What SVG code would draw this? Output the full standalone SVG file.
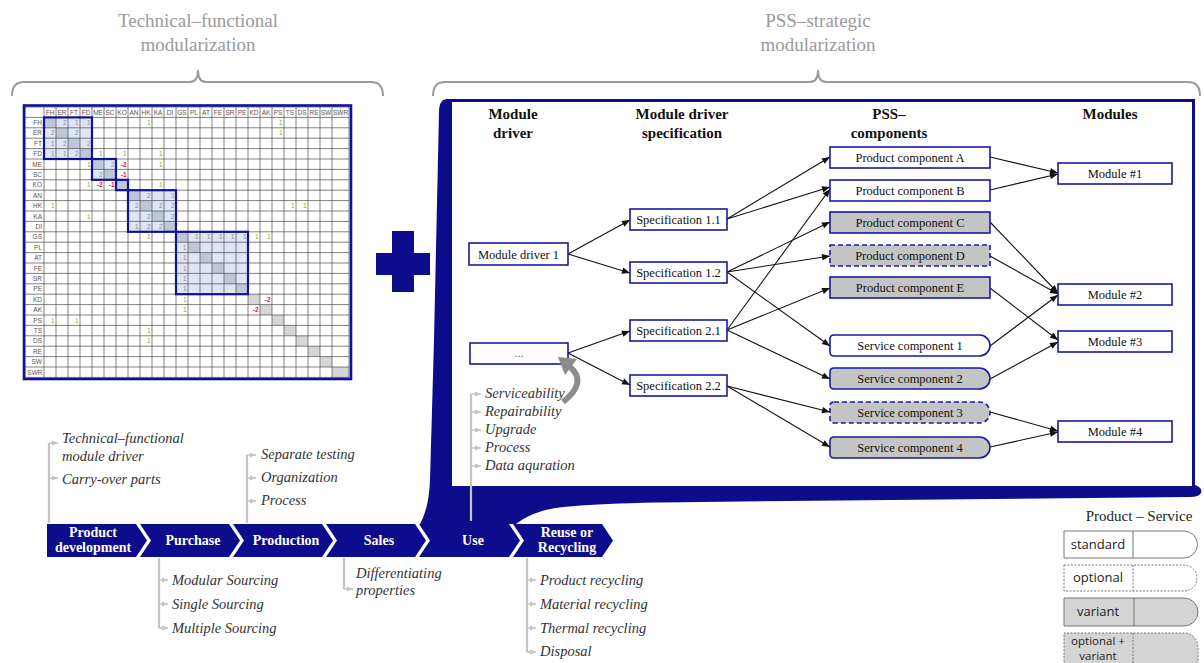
<svg xmlns="http://www.w3.org/2000/svg" width="1204" height="663" viewBox="0 0 1204 663">
<style>
.ttl{font-family:"Liberation Serif",serif;font-size:19px;fill:#9a9a9a;text-anchor:middle}
.brace{fill:none;stroke:#9a9a9a;stroke-width:2}
.hd{font-family:"Liberation Serif",serif;font-size:15px;font-weight:bold;fill:#111;text-anchor:middle}
.nd{fill:#fff;stroke:#1a1aa0;stroke-width:1.6}
.ndg{fill:#c4c4c4;stroke:#1a1aa0;stroke-width:1.6}
.dash{stroke-dasharray:5 3}
.nt{font-family:"Liberation Serif",serif;font-size:12.5px;fill:#111;text-anchor:middle}
.cn{fill:none;stroke:#111;stroke-width:1.1;marker-end:url(#ah)}
.chev{fill:#0c0c8c}
.ct{font-family:"Liberation Serif",serif;font-size:14px;font-weight:bold;fill:#fff;text-anchor:middle}
.li{font-family:"Liberation Serif",serif;font-size:14.5px;font-style:italic;fill:#333}
.ll{fill:none;stroke:#c4c4c4;stroke-width:2.2}
.lt{fill:none;stroke:#c4c4c4;stroke-width:1.5;marker-end:url(#gh)}
.mx{font-family:"Liberation Sans",sans-serif;font-size:6.5px;fill:#555;text-anchor:middle}
.ml{font-family:"Liberation Sans",sans-serif;font-size:6.5px;fill:#555;text-anchor:end}
.g{font-family:"Liberation Sans",sans-serif;font-size:6.5px;fill:#86ac48;text-anchor:end}
.k{font-family:"Liberation Sans",sans-serif;font-size:6.5px;fill:#8c8c8c;text-anchor:end}
.r{font-family:"Liberation Sans",sans-serif;font-size:6.5px;font-weight:bold;fill:#e02020;text-anchor:end}
.dg{fill:#d6d6d6}
.lg{font-family:"Open Sans","Liberation Sans",sans-serif;font-size:13px;fill:#222;text-anchor:middle}
.lg2{font-family:"Open Sans","Liberation Sans",sans-serif;font-size:11.5px;fill:#222;text-anchor:middle}
.lgs{stroke:#777;stroke-width:1}
</style>
<defs>
<marker id="ah" viewBox="0 0 10 10" refX="10" refY="5" markerWidth="9" markerHeight="8" orient="auto" markerUnits="userSpaceOnUse"><path d="M0,1 L10,5 L0,9 z" fill="#111"/></marker>
<marker id="gh" viewBox="0 0 10 10" refX="10" refY="5" markerWidth="6" markerHeight="6" orient="auto" markerUnits="userSpaceOnUse"><path d="M0,1 L10,5 L0,9 z" fill="#c4c4c4"/></marker>
</defs>
<rect width="1204" height="663" fill="#fff"/>

<g id="title-left">
<text class="ttl" x="198" y="27">Technical–functional</text>
<text class="ttl" x="198" y="51">modularization</text>
<path class="brace" d="M12,96 Q12,82 24,82 L190,82 Q198,82 198,70 Q198,82 206,82 L371,82 Q383,82 383,96"/>
</g>
<g id="title-right">
<text class="ttl" x="818" y="27">PSS–strategic</text>
<text class="ttl" x="818" y="51">modularization</text>
<path class="brace" d="M433,96 Q433,82 445,82 L810,82 Q818,82 818,70 Q818,82 826,82 L1188,82 Q1200,82 1200,96"/>
</g>

<g id="matrix">
<rect x="24" y="105.5" width="327" height="273.5" fill="#fff"/>
<g>
<rect class="dg" x="44" y="117.4" width="12" height="10.4"/><rect class="dg" x="56" y="127.8" width="12" height="10.4"/><rect class="dg" x="68" y="138.2" width="12" height="10.4"/><rect class="dg" x="80" y="148.6" width="12" height="10.4"/><rect class="dg" x="92" y="159" width="12" height="10.4"/><rect class="dg" x="104" y="169.4" width="12" height="10.4"/><rect class="dg" x="116" y="179.8" width="12" height="10.4"/><rect class="dg" x="128" y="190.2" width="12" height="10.4"/><rect class="dg" x="140" y="200.6" width="12" height="10.4"/><rect class="dg" x="152" y="211" width="12" height="10.4"/><rect class="dg" x="164" y="221.4" width="12" height="10.4"/><rect class="dg" x="176" y="231.8" width="12" height="10.4"/><rect class="dg" x="188" y="242.2" width="12" height="10.4"/><rect class="dg" x="200" y="252.6" width="12" height="10.4"/><rect class="dg" x="212" y="263" width="12" height="10.4"/><rect class="dg" x="224" y="273.4" width="12" height="10.4"/><rect class="dg" x="236" y="283.8" width="12" height="10.4"/><rect class="dg" x="248" y="294.2" width="12" height="10.4"/><rect class="dg" x="260" y="304.6" width="12" height="10.4"/><rect class="dg" x="272" y="315" width="12" height="10.4"/><rect class="dg" x="284" y="325.4" width="12" height="10.4"/><rect class="dg" x="296" y="335.8" width="12" height="10.4"/><rect class="dg" x="308" y="346.2" width="12" height="10.4"/><rect class="dg" x="320" y="356.6" width="12" height="10.4"/><rect class="dg" x="332" y="367" width="17" height="10.4"/>
</g>
<g fill="rgba(120,150,220,0.25)">
<rect x="44" y="117.4" width="48" height="41.6"/><rect x="92" y="159" width="24" height="20.8"/><rect x="116" y="179.8" width="12" height="10.4"/><rect x="128" y="190.2" width="48" height="41.6"/><rect x="176" y="231.8" width="72" height="62.4"/>
</g>
<path fill="none" stroke="#4a4a4a" stroke-width="0.7" d="M25,107V377.4M44,107V377.4M56,107V377.4M68,107V377.4M80,107V377.4M92,107V377.4M104,107V377.4M116,107V377.4M128,107V377.4M140,107V377.4M152,107V377.4M164,107V377.4M176,107V377.4M188,107V377.4M200,107V377.4M212,107V377.4M224,107V377.4M236,107V377.4M248,107V377.4M260,107V377.4M272,107V377.4M284,107V377.4M296,107V377.4M308,107V377.4M320,107V377.4M332,107V377.4M349,107V377.4
M25,107H349M25,117.4H349M25,127.8H349M25,138.2H349M25,148.6H349M25,159H349M25,169.4H349M25,179.8H349M25,190.2H349M25,200.6H349M25,211H349M25,221.4H349M25,231.8H349M25,242.2H349M25,252.6H349M25,263H349M25,273.4H349M25,283.8H349M25,294.2H349M25,304.6H349M25,315H349M25,325.4H349M25,335.8H349M25,346.2H349M25,356.6H349M25,367H349M25,377.4H349"/>
<g fill="none" stroke="#10109a" stroke-width="2.2">
<rect x="44" y="117.4" width="48" height="41.6"/><rect x="92" y="159" width="24" height="20.8"/><rect x="116" y="179.8" width="12" height="10.4"/><rect x="128" y="190.2" width="48" height="41.6"/><rect x="176" y="231.8" width="72" height="62.4"/>
</g>
<rect x="24" y="105.5" width="327" height="273.5" fill="none" stroke="#10109a" stroke-width="2.6"/>
<g>
<text class="mx" x="50" y="114.6">FH</text><text class="mx" x="62" y="114.6">ER</text><text class="mx" x="74" y="114.6">FT</text><text class="mx" x="86" y="114.6">FD</text><text class="mx" x="98" y="114.6">ME</text><text class="mx" x="110" y="114.6">SC</text><text class="mx" x="122" y="114.6">KO</text><text class="mx" x="134" y="114.6">AN</text><text class="mx" x="146" y="114.6">HK</text><text class="mx" x="158" y="114.6">KA</text><text class="mx" x="170" y="114.6">DI</text><text class="mx" x="182" y="114.6">GS</text><text class="mx" x="194" y="114.6">PL</text><text class="mx" x="206" y="114.6">AT</text><text class="mx" x="218" y="114.6">FE</text><text class="mx" x="230" y="114.6">SR</text><text class="mx" x="242" y="114.6">PE</text><text class="mx" x="254" y="114.6">KD</text><text class="mx" x="266" y="114.6">AK</text><text class="mx" x="278" y="114.6">PS</text><text class="mx" x="290" y="114.6">TS</text><text class="mx" x="302" y="114.6">DS</text><text class="mx" x="314" y="114.6">RE</text><text class="mx" x="326" y="114.6">SW</text><text class="mx" x="340.5" y="114.6">SWR</text>
</g>
<g>
<text class="ml" x="42" y="125">FH</text><text class="ml" x="42" y="135.4">ER</text><text class="ml" x="42" y="145.8">FT</text><text class="ml" x="42" y="156.2">FD</text><text class="ml" x="42" y="166.6">ME</text><text class="ml" x="42" y="177">SC</text><text class="ml" x="42" y="187.4">KO</text><text class="ml" x="42" y="197.8">AN</text><text class="ml" x="42" y="208.2">HK</text><text class="ml" x="42" y="218.6">KA</text><text class="ml" x="42" y="229">DI</text><text class="ml" x="42" y="239.4">GS</text><text class="ml" x="42" y="249.8">PL</text><text class="ml" x="42" y="260.2">AT</text><text class="ml" x="42" y="270.6">FE</text><text class="ml" x="42" y="281">SR</text><text class="ml" x="42" y="291.4">PE</text><text class="ml" x="42" y="301.8">KD</text><text class="ml" x="42" y="312.2">AK</text><text class="ml" x="42" y="322.6">PS</text><text class="ml" x="42" y="333">TS</text><text class="ml" x="42" y="343.4">DS</text><text class="ml" x="42" y="353.8">RE</text><text class="ml" x="42" y="364.2">SW</text><text class="ml" x="42.5" y="374.6">SWR</text>
</g>
<g>
<text class="k" x="66.5" y="125">2</text><text class="k" x="78.5" y="125">1</text><text class="k" x="90.5" y="125">1</text><text class="g" x="150.5" y="125">1</text><text class="g" x="282.5" y="125">1</text>
<text class="k" x="54.5" y="135.4">2</text><text class="k" x="78.5" y="135.4">2</text><text class="g" x="282.5" y="135.4">1</text>
<text class="k" x="54.5" y="145.8">1</text><text class="k" x="66.5" y="145.8">2</text><text class="k" x="90.5" y="145.8">2</text>
<text class="k" x="54.5" y="156.2">1</text><text class="k" x="66.5" y="156.2">1</text><text class="k" x="78.5" y="156.2">2</text><text class="g" x="102.5" y="156.2">1</text><text class="g" x="126.5" y="156.2">1</text><text class="g" x="162.5" y="156.2">1</text>
<text class="g" x="90.5" y="166.6">1</text><text class="k" x="114.5" y="166.6">2</text><text class="r" x="126.5" y="166.6">-2</text><text class="g" x="162.5" y="166.6">1</text>
<text class="k" x="102.5" y="177">2</text><text class="r" x="126.5" y="177">-1</text>
<text class="g" x="90.5" y="187.4">1</text><text class="r" x="102.5" y="187.4">-2</text><text class="r" x="114.5" y="187.4">-1</text><text class="g" x="162.5" y="187.4">1</text>
<text class="k" x="150.5" y="197.8">2</text><text class="k" x="174.5" y="197.8">1</text>
<text class="g" x="54.5" y="208.2">1</text><text class="k" x="138.5" y="208.2">2</text><text class="k" x="162.5" y="208.2">2</text><text class="k" x="174.5" y="208.2">2</text><text class="g" x="294.5" y="208.2">1</text><text class="g" x="306.5" y="208.2">1</text>
<text class="g" x="90.5" y="218.6">1</text><text class="k" x="150.5" y="218.6">2</text><text class="k" x="174.5" y="218.6">2</text>
<text class="k" x="138.5" y="229">1</text><text class="k" x="150.5" y="229">2</text><text class="k" x="162.5" y="229">2</text>
<text class="g" x="150.5" y="239.4">1</text><text class="k" x="198.5" y="239.4">1</text><text class="k" x="210.5" y="239.4">1</text><text class="k" x="222.5" y="239.4">1</text><text class="k" x="234.5" y="239.4">1</text><text class="k" x="246.5" y="239.4">1</text><text class="g" x="258.5" y="239.4">1</text><text class="g" x="270.5" y="239.4">1</text>
<text class="k" x="186.5" y="249.8">1</text><text class="k" x="186.5" y="260.2">1</text><text class="k" x="186.5" y="270.6">1</text><text class="k" x="186.5" y="281">1</text><text class="k" x="186.5" y="291.4">1</text>
<text class="g" x="186.5" y="301.8">1</text><text class="r" x="270.5" y="301.8">-2</text>
<text class="g" x="186.5" y="312.2">1</text><text class="r" x="258.5" y="312.2">-2</text>
<text class="g" x="54.5" y="322.6">1</text><text class="g" x="78.5" y="322.6">1</text>
<text class="g" x="150.5" y="333">1</text>
<text class="g" x="150.5" y="343.4">1</text>
</g>
</g>

<g id="plus" fill="#0c0c8c">
<rect x="392" y="231" width="22" height="61"/>
<rect x="376" y="253" width="54" height="22"/>
</g>

<g id="panel">
<path fill="#0c0c8c" d="M447,99 L1195,99 L1195,485 Q1203,488 1201,493 Q1199,497 1190,497 L700,502 Q565,503 542,511 Q526,516 516,524 L420,524 Q429,508 430,480 L434,340 L439,112 Q439,98 449,99 Z"/>
<rect x="452" y="102" width="740" height="384" fill="#fff"/>
</g>

<g id="headers">
<text class="hd" x="513" y="119">Module</text><text class="hd" x="513" y="138">driver</text>
<text class="hd" x="682" y="119">Module driver</text><text class="hd" x="682" y="138">specification</text>
<text class="hd" x="889" y="119">PSS–</text><text class="hd" x="889" y="138">components</text>
<text class="hd" x="1110" y="119">Modules</text>
</g>

<g id="connectors">
<path class="cn" d="M568,254 L630,220"/>
<path class="cn" d="M568,254 L630,273"/>
<path class="cn" d="M568,353 L630,331"/>
<path class="cn" d="M568,353 L630,385"/>
<path class="cn" d="M727,219 L830,157"/>
<path class="cn" d="M727,219 L830,187"/>
<path class="cn" d="M727,272 L830,222"/>
<path class="cn" d="M727,272 L830,256"/>
<path class="cn" d="M727,272 L830,346"/>
<path class="cn" d="M727,330 L830,189"/>
<path class="cn" d="M727,330 L830,288"/>
<path class="cn" d="M727,330 L830,379"/>
<path class="cn" d="M727,386 L830,412"/>
<path class="cn" d="M727,386 L830,447"/>
<path class="cn" d="M990,157 L1058,173"/>
<path class="cn" d="M990,190 L1058,174"/>
<path class="cn" d="M990,222 L1058,293"/>
<path class="cn" d="M990,256 L1058,294"/>
<path class="cn" d="M990,346 L1058,295"/>
<path class="cn" d="M990,288 L1058,340"/>
<path class="cn" d="M990,379 L1058,342"/>
<path class="cn" d="M990,412 L1058,431"/>
<path class="cn" d="M990,447 L1058,432"/>
</g>

<g id="md1"><rect class="nd" x="469" y="243" width="99" height="22"/><text class="nt" x="518.5" y="258.5">Module driver 1</text></g>
<g id="md2"><rect class="nd" x="470" y="343" width="98" height="21"/><text class="nt" x="519" y="357" style="fill:#777">...</text></g>
<g id="s11"><rect class="nd" x="630" y="209" width="97" height="21"/><text class="nt" x="678.5" y="224">Specification 1.1</text></g>
<g id="s12"><rect class="nd" x="630" y="262" width="97" height="21"/><text class="nt" x="678.5" y="277">Specification 1.2</text></g>
<g id="s21"><rect class="nd" x="630" y="320" width="97" height="21"/><text class="nt" x="678.5" y="335">Specification 2.1</text></g>
<g id="s22"><rect class="nd" x="630" y="375" width="97" height="21"/><text class="nt" x="678.5" y="390">Specification 2.2</text></g>
<g id="pca"><rect class="nd" x="830" y="147" width="160" height="21"/><text class="nt" x="910" y="162">Product component A</text></g>
<g id="pcb"><rect class="nd" x="830" y="180" width="160" height="21"/><text class="nt" x="910" y="195">Product component B</text></g>
<g id="pcc"><rect class="ndg" x="830" y="212" width="160" height="21"/><text class="nt" x="910" y="227">Product component C</text></g>
<g id="pcd"><rect class="ndg dash" x="830" y="245" width="160" height="21"/><text class="nt" x="910" y="260">Product component D</text></g>
<g id="pce"><rect class="ndg" x="830" y="277" width="160" height="21"/><text class="nt" x="910" y="292">Product component E</text></g>
<g id="sc1"><path class="nd" d="M834,335 H979.5 A10.5,10.5 0 0 1 979.5,356 H834 Q830,356 830,352 V339 Q830,335 834,335 Z"/><text class="nt" x="910" y="350">Service component 1</text></g>
<g id="sc2"><path class="ndg" d="M834,368 H979.5 A10.5,10.5 0 0 1 979.5,389 H834 Q830,389 830,385 V372 Q830,368 834,368 Z"/><text class="nt" x="910" y="383">Service component 2</text></g>
<g id="sc3"><path class="ndg dash" d="M834,402 H979.5 A10.5,10.5 0 0 1 979.5,423 H834 Q830,423 830,419 V406 Q830,402 834,402 Z"/><text class="nt" x="910" y="417">Service component 3</text></g>
<g id="sc4"><path class="ndg" d="M834,437 H979.5 A10.5,10.5 0 0 1 979.5,458 H834 Q830,458 830,454 V441 Q830,437 834,437 Z"/><text class="nt" x="910" y="452">Service component 4</text></g>
<g id="m1"><rect class="nd" x="1058" y="163" width="114" height="21"/><text class="nt" x="1115" y="178">Module #1</text></g>
<g id="m2"><rect class="nd" x="1058" y="284" width="114" height="21"/><text class="nt" x="1115" y="299">Module #2</text></g>
<g id="m3"><rect class="nd" x="1058" y="331" width="114" height="21"/><text class="nt" x="1115" y="346">Module #3</text></g>
<g id="m4"><rect class="nd" x="1058" y="421" width="114" height="21"/><text class="nt" x="1115" y="436">Module #4</text></g>

<g id="curved-arrow">
<path d="M563,402 Q588,382 570,367" fill="none" stroke="#8c8c8c" stroke-width="6"/>
<polygon points="558,357 577,359 565,375" fill="#8c8c8c"/>
</g>

<g id="chevrons">
<g id="c-pd"><path class="chev" d="M47,524 L136,524 L147,540.5 L136,557 L47,557 Z"/><text class="ct" x="93" y="537">Product</text><text class="ct" x="93" y="552">development</text></g>
<g id="c-pu"><path class="chev" d="M140,524 L229,524 L240,540.5 L229,557 L140,557 L151,540.5 Z"/><text class="ct" x="193" y="545">Purchase</text></g>
<g id="c-pr"><path class="chev" d="M233,524 L322,524 L333,540.5 L322,557 L233,557 L244,540.5 Z"/><text class="ct" x="286" y="545">Production</text></g>
<g id="c-sa"><path class="chev" d="M326,524 L415,524 L426,540.5 L415,557 L326,557 L337,540.5 Z"/><text class="ct" x="379" y="545">Sales</text></g>
<g id="c-us"><path class="chev" d="M419,524 L509,524 L520,540.5 L509,557 L419,557 L430,540.5 Z"/><text class="ct" x="473" y="545">Use</text></g>
<g id="c-re"><path class="chev" d="M513,524 L602,524 L613,540.5 L602,557 L513,557 L524,540.5 Z"/><text class="ct" x="567" y="537">Reuse or</text><text class="ct" x="567" y="552">Recycling</text></g>
</g>

<g id="list-pd">
<path class="ll" d="M49,523 V443"/>
<path class="lt" d="M49,443 H58"/><path class="lt" d="M49,478 H58"/>
<text class="li" x="62" y="443">Technical–functional</text>
<text class="li" x="62" y="461">module driver</text>
<text class="li" x="62" y="484">Carry-over parts</text>
</g>
<g id="list-prod">
<path class="ll" d="M247,523 V455"/>
<path class="lt" d="M247,455 H256"/><path class="lt" d="M247,478 H256"/><path class="lt" d="M247,501 H256"/>
<text class="li" x="261" y="459">Separate testing</text>
<text class="li" x="261" y="482">Organization</text>
<text class="li" x="261" y="505">Process</text>
</g>
<g id="list-use">
<path class="ll" d="M471,521 V394" stroke-width="3"/>
<path class="lt" d="M471,394 H481"/><path class="lt" d="M471,412 H481"/><path class="lt" d="M471,430 H481"/><path class="lt" d="M471,448 H481"/><path class="lt" d="M471,466 H481"/>
<text class="li" x="485" y="398">Serviceability</text>
<text class="li" x="485" y="416">Repairability</text>
<text class="li" x="485" y="434">Upgrade</text>
<text class="li" x="485" y="452">Process</text>
<text class="li" x="485" y="470">Data aquration</text>
</g>
<g id="list-pu">
<path class="ll" d="M159,558 V628"/>
<path class="lt" d="M159,580 H168"/><path class="lt" d="M159,604 H168"/><path class="lt" d="M159,628 H168"/>
<text class="li" x="172" y="585">Modular Sourcing</text>
<text class="li" x="172" y="609">Single Sourcing</text>
<text class="li" x="172" y="633">Multiple Sourcing</text>
</g>
<g id="list-sa">
<path class="ll" d="M344,558 V589"/>
<path class="lt" d="M344,589 H353"/>
<text class="li" x="356" y="578">Differentiating</text>
<text class="li" x="356" y="595">properties</text>
</g>
<g id="list-re">
<path class="ll" d="M527,558 V652"/>
<path class="lt" d="M527,580 H536"/><path class="lt" d="M527,604 H536"/><path class="lt" d="M527,628 H536"/><path class="lt" d="M527,652 H536"/>
<text class="li" x="540" y="585">Product recycling</text>
<text class="li" x="540" y="609">Material recycling</text>
<text class="li" x="540" y="633">Thermal recycling</text>
<text class="li" x="540" y="656">Disposal</text>
</g>

<g id="legend">
<text x="1139" y="521" font-family="Liberation Serif, serif" font-size="15" fill="#222" text-anchor="middle">Product – Service</text>
<g id="lg-standard">
<path class="lgs" fill="#fff" d="M1064,531 H1184 A13.5,13.5 0 0 1 1184,558 H1064 Z"/>
<path class="lgs" d="M1133,531 V558"/>
<text class="lg" x="1098" y="549">standard</text>
</g>
<g id="lg-optional">
<path class="lgs" fill="#fff" stroke-dasharray="2 1.5" d="M1064,565 H1184 A13,13 0 0 1 1184,591 H1064 Z"/>
<path class="lgs" stroke-dasharray="2 1.5" d="M1133,565 V591"/>
<text class="lg" x="1098" y="582">optional</text>
</g>
<g id="lg-variant">
<path class="lgs" fill="#d4d4d4" d="M1064,598 H1184 A14,14 0 0 1 1184,626 H1064 Z"/>
<path class="lgs" d="M1134,598 V626"/>
<text class="lg" x="1098" y="616">variant</text>
</g>
<g id="lg-optvar">
<path class="lgs" fill="#d4d4d4" stroke-dasharray="2 1.5" d="M1064,665 V633 H1184 A14,14 0 0 1 1198,647 V665"/>
<path class="lgs" stroke-dasharray="2 1.5" d="M1133,633 V665"/>
<text class="lg2" x="1098" y="645">optional +</text>
<text class="lg2" x="1098" y="660">variant</text>
</g>
</g>
</svg>
